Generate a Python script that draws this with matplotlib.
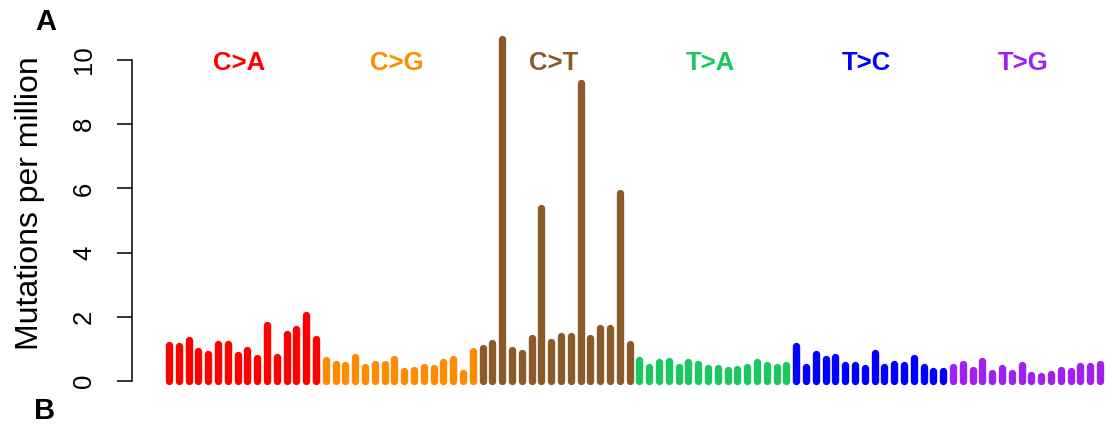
import matplotlib
matplotlib.use("Agg")
import matplotlib.pyplot as plt

plt.rcParams['font.family'] = ['Liberation Sans', 'DejaVu Sans']

# mutation types and colours
types = ["C>A", "C>G", "C>T", "T>A", "T>C", "T>G"]
colors = ["#FF0000", "#FF8C00", "#8B5A2B", "#1CC660", "#0000FF", "#A020F0"]

# mutations per million, 16 trinucleotide contexts per type
ca = [1.13, 1.10, 1.27, 0.93, 0.84, 1.14, 1.15, 0.82, 0.96, 0.72, 1.75, 0.75, 1.47, 1.63, 2.05, 1.30]
cg = [0.65, 0.54, 0.50, 0.76, 0.45, 0.52, 0.52, 0.69, 0.32, 0.35, 0.45, 0.41, 0.60, 0.69, 0.25, 0.93]
ct = [1.03, 1.18, 10.66, 0.96, 0.87, 1.35, 5.38, 1.21, 1.39, 1.41, 9.28, 1.34, 1.64, 1.64, 5.86, 1.16]
ta = [0.65, 0.43, 0.58, 0.61, 0.43, 0.58, 0.53, 0.40, 0.40, 0.35, 0.37, 0.44, 0.58, 0.50, 0.44, 0.49]
tc = [1.08, 0.43, 0.83, 0.68, 0.74, 0.51, 0.49, 0.40, 0.88, 0.43, 0.54, 0.51, 0.72, 0.44, 0.32, 0.31]
tg = [0.44, 0.53, 0.34, 0.61, 0.25, 0.39, 0.25, 0.51, 0.20, 0.17, 0.22, 0.34, 0.31, 0.48, 0.47, 0.54]
groups = [ca, cg, ct, ta, tc, tg]

yticks = [0, 2, 4, 6, 8, 10]

fig = plt.figure(figsize=(11.13, 4.25), dpi=100)
ax = fig.add_axes([132/1113, 44/425, 978/1113, 11*32.1/425])

for g, (vals, col, name) in enumerate(zip(groups, colors, types)):
    x = [g*16 + i + 1 for i in range(len(vals))]
    ax.vlines(x, 0, vals, colors=col, linewidth=5.3, capstyle='round', clip_on=False)
    ax.text(g*16 + 8.2, 9.9, name, color=col, fontsize=18.5, fontweight='bold',
            ha='center', va='center')

ax.set_xlim(-2.78, 97.02)
ax.set_ylim(0, 11)
for s in ['top', 'right', 'bottom']:
    ax.spines[s].set_visible(False)
ax.spines['left'].set_bounds(0, 10)
ax.spines['left'].set_linewidth(1.1)
ax.set_xticks([])
ax.set_yticks(yticks)
ax.set_yticklabels([str(t) for t in yticks], rotation=90, va='center')
ax.tick_params(axis='y', length=10.8, width=1.1, pad=15, labelsize=18.5)

fig.text(30/1113, (425-203)/425, "Mutations per million", rotation=90,
         ha='center', va='center', fontsize=23)
fig.text(46/1113, (425-22)/425, "A", fontsize=21, fontweight='bold', ha='center', va='center')
fig.text(45/1113, (425-411)/425, "B", fontsize=21, fontweight='bold', ha='center', va='center')

fig.savefig("out.png", dpi=100)
